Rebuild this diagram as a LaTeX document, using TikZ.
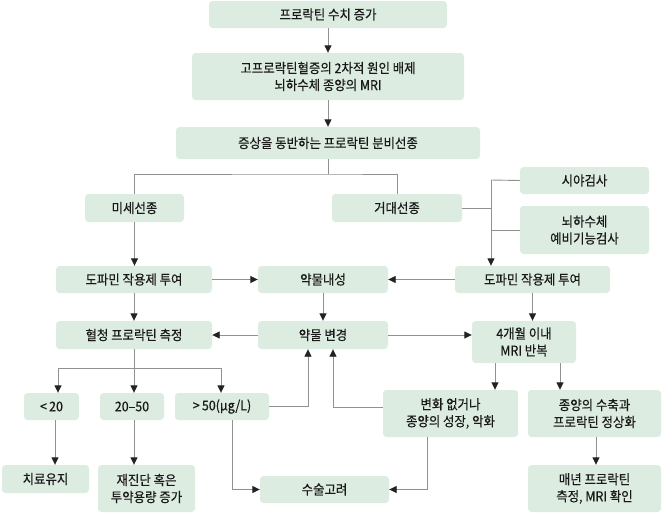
\documentclass[tikz,border=0pt]{standalone}
\usepackage{fontspec}
\setmainfont[FakeStretch=0.92,FakeBold=0.35]{Noto Sans CJK KR}
\usetikzlibrary{arrows.meta}
\definecolor{boxfill}{RGB}{221,236,224}
\definecolor{lncol}{RGB}{145,145,145}
\definecolor{tipcol}{RGB}{35,35,35}
\begin{document}
\begin{tikzpicture}[x=1pt,y=-1pt,
 box/.style={fill=boxfill, rounded corners=3.5pt, inner sep=0pt, align=center,
   font=\fontsize{13.5}{17}\selectfont, text=black!90},
 ln/.style={draw=lncol, line width=0.9pt},
 arr/.style={ln, -{Triangle[length=7.5pt,width=7pt,color=tipcol]}}
]
\useasboundingbox (0,0) rectangle (662,514);
% boxes
\node[box, minimum width=238pt, minimum height=27pt] (A) at (328,14.5) {프로락틴 수치 증가};
\node[box, minimum width=272pt, minimum height=47pt] (B) at (328,76.5) {고프로락틴혈증의 2차적 원인 배제\\뇌하수체 종양의 MRI};
\node[box, minimum width=304pt, minimum height=32pt] (C) at (328,143) {증상을 동반하는 프로락틴 분비선종};
\node[box, minimum width=99pt, minimum height=28pt] (D) at (134.5,208) {미세선종};
\node[box, minimum width=130pt, minimum height=28pt] (E) at (397,208) {거대선종};
\node[box, minimum width=129pt, minimum height=27pt] (F) at (584.5,180.5) {시야검사};
\node[box, minimum width=129pt, minimum height=48pt] (G) at (584.5,230) {뇌하수체\\예비기능검사};
\node[box, minimum width=156pt, minimum height=27pt] (H) at (134,279.5) {도파민 작용제 투여};
\node[box, minimum width=130pt, minimum height=27pt] (I) at (323,279.5) {약물내성};
\node[box, minimum width=155pt, minimum height=27pt] (J) at (532.5,279.5) {도파민 작용제 투여};
\node[box, minimum width=156pt, minimum height=28pt] (K) at (134,335) {혈청 프로락틴 측정};
\node[box, minimum width=130pt, minimum height=28pt] (L) at (323,335) {약물 변경};
\node[box, minimum width=104pt, minimum height=42pt] (M) at (524,342) {4개월 이내\\MRI 반복};
\node[box, minimum width=55pt, minimum height=27pt] (N) at (51.5,406.5) {<\,20};
\node[box, minimum width=64pt, minimum height=27pt] (O) at (132,406.5) {20–50};
\node[box, minimum width=94pt, minimum height=27pt] (P) at (222,406.5) {>\,50(μg/L)};
\node[box, minimum width=135pt, minimum height=47pt] (Q) at (450.5,413.5) {변화 없거나\\종양의 성장, 악화};
\node[box, minimum width=133pt, minimum height=47pt] (R) at (594.5,413.5) {종양의 수축과\\프로락틴 정상화};
\node[box, minimum width=87pt, minimum height=28pt] (S) at (45.5,479) {치료유지};
\node[box, minimum width=97pt, minimum height=47pt] (T) at (146.5,488.5) {재진단 혹은\\투약용량 증가};
\node[box, minimum width=129pt, minimum height=27pt] (U) at (324.5,489.5) {수술고려};
\node[box, minimum width=133pt, minimum height=47pt] (V) at (594.5,488.5) {매년 프로락틴\\측정, MRI 확인};
% coordinates
\coordinate (c1) at (328,174);
\coordinate (v1) at (491,180);
\coordinate (v2) at (491,230);
\coordinate (k1) at (134,368);
\coordinate (kl) at (58,368);
\coordinate (kr) at (221,368);
\coordinate (p1) at (308,406.5);
\coordinate (q1) at (333,407);
\coordinate (m1) at (495,363);
\coordinate (m2) at (560,363);
\coordinate (n1) at (55,420);
\coordinate (o1) at (134,420);
\coordinate (p2) at (232,420);
\coordinate (q2) at (427,437);
\coordinate (r1) at (596,437);
% connectors
\draw[arr] (A) -- (B);
\draw[arr] (B) -- (C);
\draw[ln] (C.south) -- (c1);
\draw[ln] (D.north) |- (c1) -| (E.north);
\draw[arr] (D.south) -- (D.south |- H.north);
\draw[ln] (E.east) -- (E.east -| v1);
\draw[ln] (F.west) -- (v1);
\draw[ln] (G.west) -- (v2);
\draw[arr] (v1) -- (v1 |- J.north);
\draw[arr] (H) -- (I);
\draw[arr] (J) -- (I);
\draw[arr] (I) -- (L);
\draw[arr] (H) -- (K);
\draw[arr] (J.south) -- (J.south |- M.north);
\draw[arr] (L) -- (K);
\draw[arr] (L.east) -- (L.east -| M.west);
\draw[ln] (K.south) -- (k1);
\draw[ln] (kl) -- (kr);
\draw[arr] (kl) -- (kl |- N.north);
\draw[arr] (k1) -- (k1 |- O.north);
\draw[arr] (kr) -- (kr |- P.north);
\draw[arr] (P.east) -- (p1) -- (p1 |- L.south);
\draw[arr] (Q.west |- q1) -- (q1) -- (q1 |- L.south);
\draw[arr] (m1) -- (m1 |- Q.north);
\draw[arr] (m2) -- (m2 |- R.north);
\draw[arr] (n1) -- (n1 |- S.north);
\draw[arr] (o1) -- (o1 |- T.north);
\draw[arr] (p2) |- (U.west);
\draw[arr] (q2) |- (U.east);
\draw[arr] (r1) -- (r1 |- V.north);
\end{tikzpicture}
\end{document}
